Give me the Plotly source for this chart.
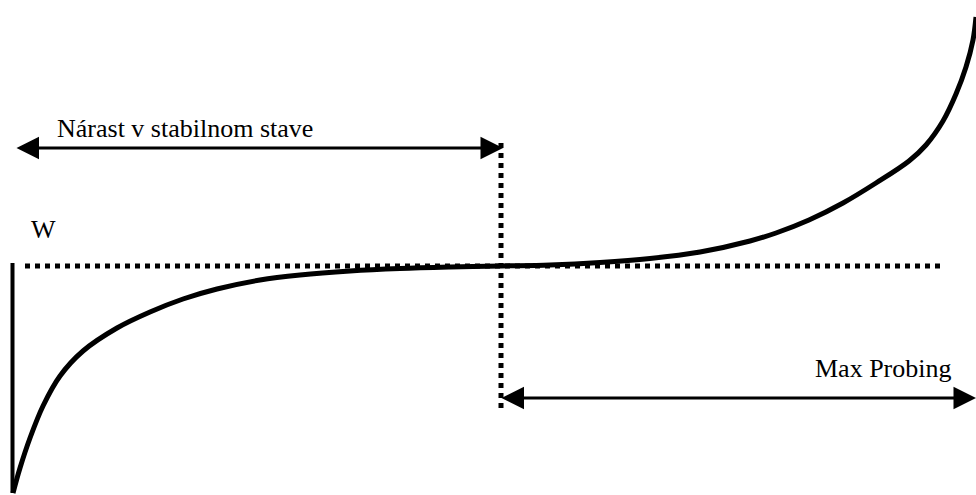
import plotly.graph_objects as go

# Schematic CUBIC-like window growth; time t (px-like units), window offset w (W level = 0)
W_LEVEL = 0
curve_t = [13, 20, 30, 43, 60, 83, 117, 150, 183, 217, 260, 300, 350, 400, 450, 501,
           550, 600, 650, 700, 750, 776, 809, 843, 876, 909, 926, 943, 956, 966, 973, 976]
curve_w = [-227, -202, -172, -140, -110, -85, -62, -46, -33, -23, -14, -9, -5, -2.5, -1, 0,
           1, 3.5, 7.5, 14, 25, 33, 46, 63, 83, 105, 121, 145, 172, 199, 226, 249]

drop_t = [12.5, 12.5]
drop_w = [3, -227]

wmax_t = [25, 942]
wmax_w = [W_LEVEL, W_LEVEL]

split_t = [501, 501]
split_w = [123, -142]

steady_arrow = {"t0": 15, "t1": 503, "w": 118}
probe_arrow = {"t0": 500, "t1": 976, "w": -132}

labels = ["Nárast v stabilnom stave", "Max Probing", "W"]

fig = go.Figure()
fig.add_trace(go.Scatter(x=wmax_t, y=wmax_w, mode="lines",
                         line=dict(color="black", width=5, dash="5px,5px")))
fig.add_trace(go.Scatter(x=split_t, y=split_w, mode="lines",
                         line=dict(color="black", width=5, dash="5px,5px")))
fig.add_trace(go.Scatter(x=drop_t, y=drop_w, mode="lines",
                         line=dict(color="black", width=4)))
fig.add_trace(go.Scatter(x=curve_t, y=curve_w, mode="lines", line_shape="spline",
                         line=dict(color="black", width=5, smoothing=1.0)))

for a in (steady_arrow, probe_arrow):
    fig.add_annotation(x=a["t1"], y=a["w"], ax=a["t0"], ay=a["w"],
                       xref="x", yref="y", axref="x", ayref="y", text="",
                       showarrow=True, arrowside="end+start",
                       arrowhead=2, startarrowhead=2, arrowsize=1.5, startarrowsize=1.5,
                       arrowwidth=3, arrowcolor="black")

font = dict(family="Liberation Serif", size=26, color="black")
fig.add_annotation(x=55, y=138, text=labels[0], showarrow=False, xanchor="left",
                   yanchor="middle", font=font, xref="x", yref="y")
fig.add_annotation(x=954, y=-102, text=labels[1], showarrow=False, xanchor="right",
                   yanchor="middle", font=font, xref="x", yref="y")
fig.add_annotation(x=43, y=37, text=labels[2], showarrow=False, xanchor="center",
                   yanchor="middle", font=dict(family="Liberation Serif", size=26, color="black"),
                   xref="x", yref="y")

fig.update_layout(width=976, height=495, margin=dict(l=0, r=0, t=0, b=0),
                  paper_bgcolor="white", plot_bgcolor="white", showlegend=False)
fig.update_xaxes(range=[0, 976], visible=False, fixedrange=True)
fig.update_yaxes(range=[-229, 266], visible=False, fixedrange=True)

fig.write_html("out.html", config={"displayModeBar": False},
               post_script="document.body.style.margin='0';document.body.style.overflow='hidden';")
